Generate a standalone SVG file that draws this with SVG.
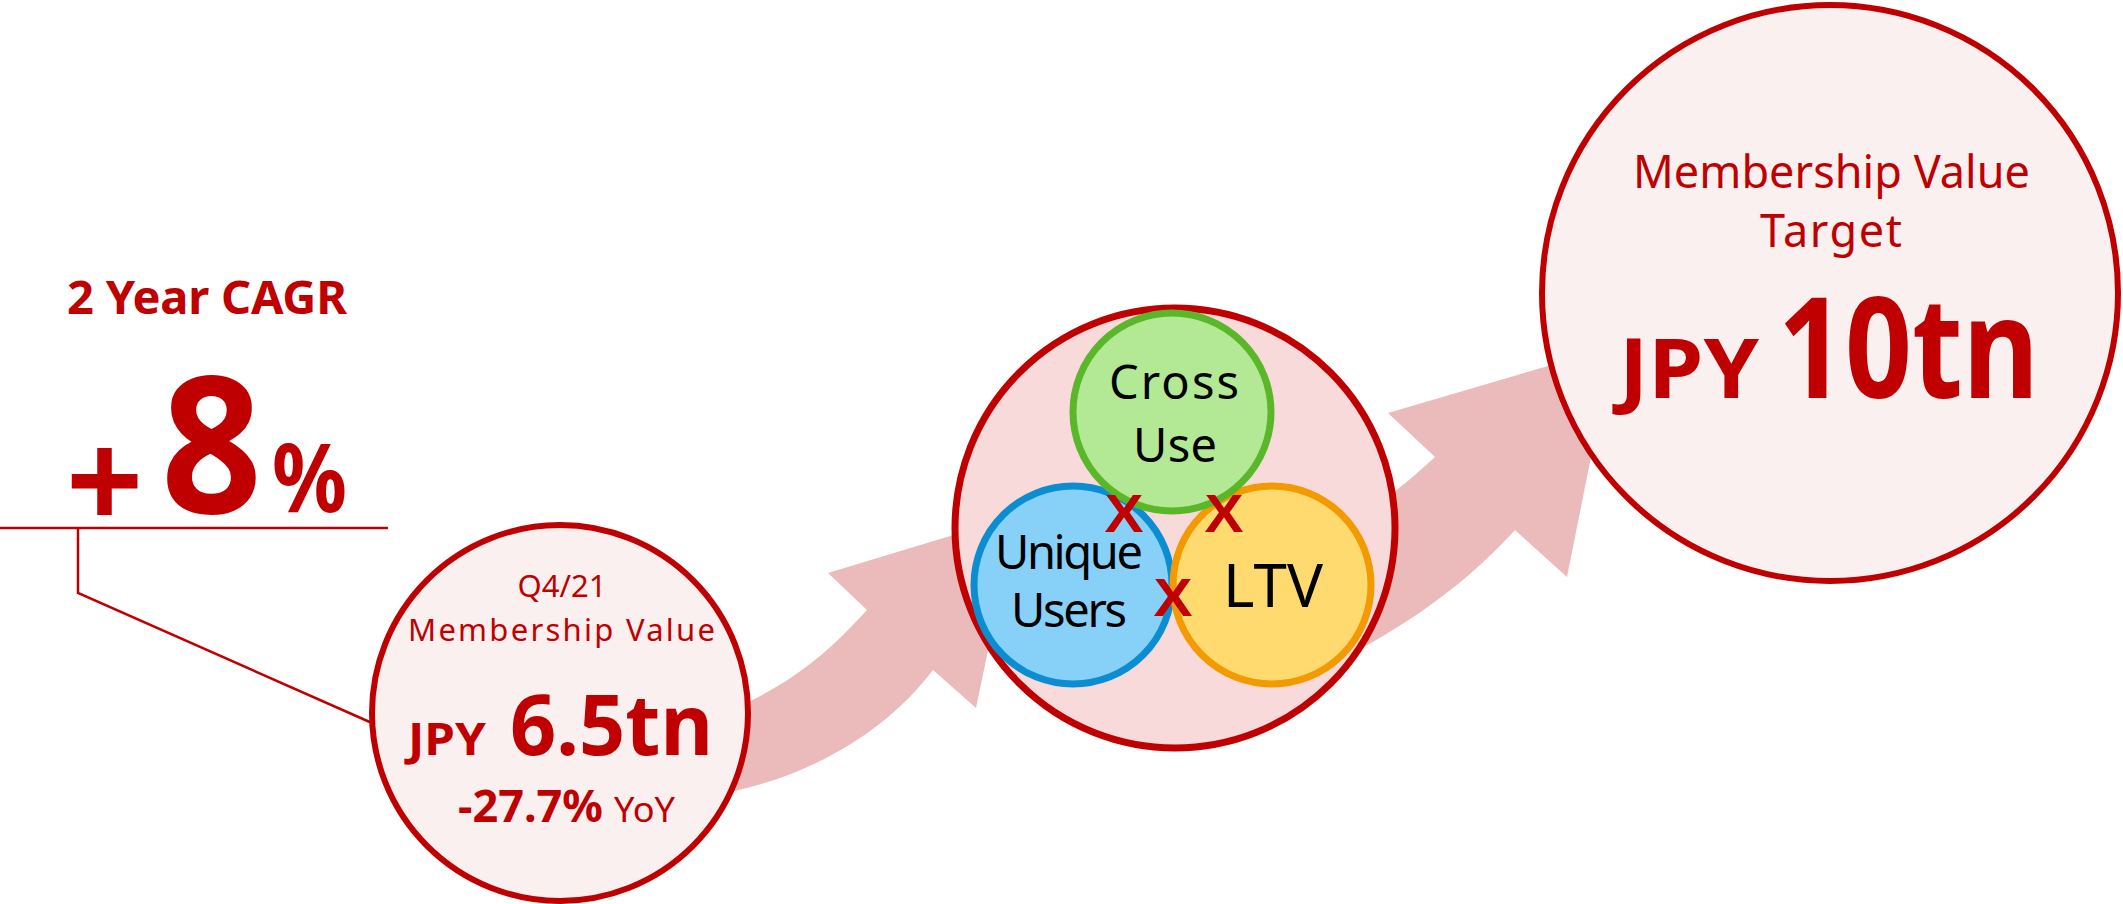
<svg xmlns="http://www.w3.org/2000/svg" width="2123" height="904" viewBox="0 0 2123 904">
<style>
.red{fill:#C00000;font-family:"Noto Sans","Liberation Sans",sans-serif}
.b{font-weight:bold}
.blk{fill:#000;font-family:"Noto Sans","Liberation Sans",sans-serif}
.x{fill:#C00000;font-family:"Liberation Sans",sans-serif;font-weight:bold;font-size:53px}
.arrow{fill:#EBBABB}
.ln{fill:none;stroke:#C00000;stroke-width:2.5}
</style>
<rect width="2123" height="904" fill="#fff"/>
<g id="connectors">
<path class="arrow" d="M690,798 C790,788 880,740 933,670 L976,708 L1016,516 L828,573 L867,610 C830,650 790,690 700,722 Z"/>
<path class="arrow" d="M1330,665 C1410,625 1470,580 1515,530 L1567,577 L1613,347 L1388,413 L1435,457 C1410,480 1370,515 1320,540 Z"/>
<path class="ln" d="M0,528 H388 M78,528 V593 L372,723"/>
</g>
<g id="cagr">
<text class="red b" x="207" y="314" font-size="47" text-anchor="middle" textLength="280">2 Year CAGR</text>
<text x="104.5" y="525" font-size="131" text-anchor="middle" fill="#C00000" font-family="Liberation Sans,sans-serif" font-weight="bold">+</text>
<text class="red b" x="211.5" y="513" font-size="190" text-anchor="middle" textLength="101" lengthAdjust="spacingAndGlyphs">8</text>
<text class="red b" x="309.5" y="512" font-size="95" text-anchor="middle" textLength="75" lengthAdjust="spacingAndGlyphs">%</text>
</g>
<g id="current">
<circle cx="560" cy="713" r="188" fill="#FBF0F0" stroke="#C00000" stroke-width="6"/>
<text class="red" x="562" y="597" font-size="31" text-anchor="middle">Q4/21</text>
<text class="red" x="561.5" y="641" font-size="31" text-anchor="middle" textLength="307">Membership Value</text>
<text class="red b" x="408" y="755" font-size="44" textLength="78" lengthAdjust="spacingAndGlyphs">JPY</text>
<text class="red b" x="510" y="755" font-size="84" textLength="203" lengthAdjust="spacingAndGlyphs">6.5tn</text>
<text class="red b" x="458" y="822" font-size="44" textLength="145" lengthAdjust="spacingAndGlyphs">-27.7%</text>
<text class="red" x="614" y="822" font-size="35" textLength="61" lengthAdjust="spacingAndGlyphs">YoY</text>
</g>
<g id="drivers">
<circle cx="1175" cy="528" r="220" fill="#F9DADA" stroke="#C00000" stroke-width="7"/>
<circle cx="1073" cy="585" r="99" fill="#87D0F7" stroke="#0B8ED1" stroke-width="7"/>
<circle cx="1272" cy="585" r="99" fill="#FFDA6F" stroke="#F29A00" stroke-width="7"/>
<circle cx="1172" cy="412" r="99" fill="#B3E994" stroke="#5BB72A" stroke-width="7"/>
<text class="blk" x="1174" y="399" font-size="47" text-anchor="middle" textLength="130">Cross</text>
<text class="blk" x="1175" y="462" font-size="47" text-anchor="middle" textLength="84">Use</text>
<text class="blk" x="1069" y="569" font-size="47" text-anchor="middle" textLength="148">Unique</text>
<text class="blk" x="1069" y="627" font-size="47" text-anchor="middle" textLength="116">Users</text>
<text class="blk" x="1273" y="607" font-size="60" text-anchor="middle" textLength="100">LTV</text>
<text class="x" x="1124" y="532" text-anchor="middle" textLength="39" lengthAdjust="spacingAndGlyphs">X</text>
<text class="x" x="1224" y="532" text-anchor="middle" textLength="39" lengthAdjust="spacingAndGlyphs">X</text>
<text class="x" x="1173" y="616" text-anchor="middle" textLength="39" lengthAdjust="spacingAndGlyphs">X</text>
</g>
<g id="target">
<circle cx="1830" cy="293" r="288" fill="#FBF0F0" stroke="#C00000" stroke-width="6"/>
<text class="red" x="1831.5" y="188" font-size="45" text-anchor="middle" textLength="397">Membership Value</text>
<text class="red" x="1831" y="247" font-size="45" text-anchor="middle" textLength="142">Target</text>
<text class="red b" x="1619" y="398" font-size="82" textLength="140" lengthAdjust="spacingAndGlyphs">JPY</text>
<text class="red b" x="1778" y="398" font-size="140" textLength="261" lengthAdjust="spacingAndGlyphs">10tn</text>
</g>
</svg>
